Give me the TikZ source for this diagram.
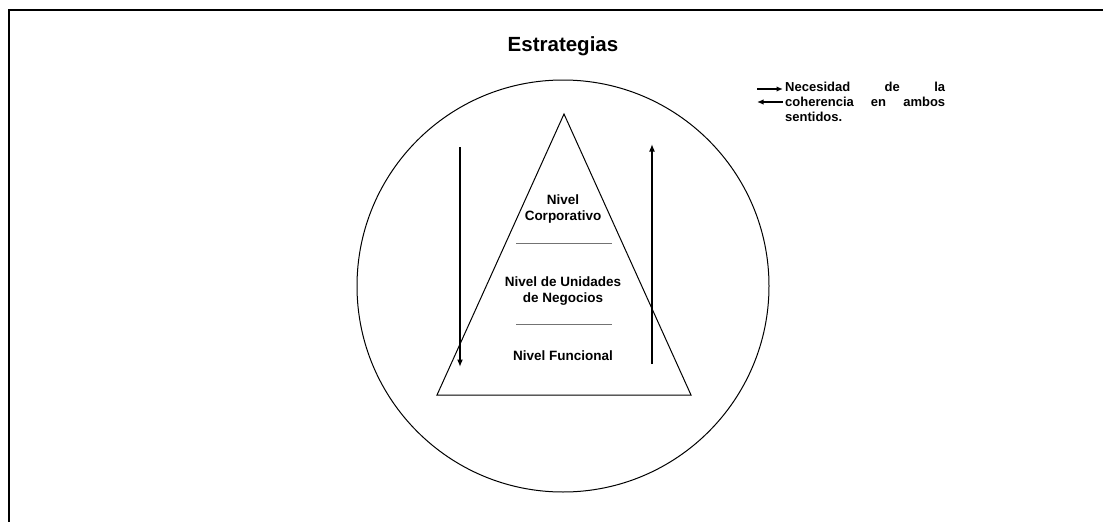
\documentclass[tikz,border=0pt]{standalone}
\usepackage{fontspec}
\setmainfont{Liberation Sans}
\usetikzlibrary{arrows.meta}
\tikzset{
  lbl/.style={font=\bfseries\fontsize{13.5}{16}\selectfont, align=center, inner sep=0pt},
  sep/.style={draw=black!55, line width=0.8pt},
  flow/.style={line width=1.5pt, -{Latex[length=7.5pt,width=6pt]}},
  legarrow/.style={line width=1.3pt, -{Latex[length=6.5pt,width=5.5pt]}},
  outline/.style={draw=black, line width=1pt}
}
\begin{document}
\begin{tikzpicture}[x=1pt,y=-1pt]
\useasboundingbox (0,0) rectangle (1103,522);
% frame
\draw[line width=2pt] (9,522) -- (9,10) -- (1103,10);
% title
\node[font=\bfseries\fontsize{20.5}{24}\selectfont, inner sep=0pt] (title) at (563,46) {Estrategias};
% circle
\node[outline, circle, minimum size=412pt, inner sep=0pt] (circ) at (563,286) {};
% triangle
\coordinate (apex) at (564,114);
\coordinate (bl) at (437,395);
\coordinate (br) at (691,395);
\draw[outline] (apex) -- (bl) -- (br) -- cycle;
% separators
\coordinate (s1a) at (516,243); \coordinate (s1b) at (612,243);
\coordinate (s2a) at (516,324); \coordinate (s2b) at (612,324);
\draw[sep] (s1a) -- (s1b);
\draw[sep] (s2a) -- (s2b);
% labels
\node[lbl] (corp) at (563,209) {Nivel\\Corporativo};
\node[lbl] (unid) at (563,291) {Nivel de Unidades\\de Negocios};
\node[lbl] (func) at (563,356) {Nivel Funcional};
% vertical arrows
\coordinate (d1) at (460,147); \coordinate (d2) at (460,367);
\coordinate (u1) at (652,364); \coordinate (u2) at (652,144);
\draw[flow] (d1) -- (d2);
\draw[flow] (u1) -- (u2);
% legend
\node[font=\bfseries\fontsize{13}{15}\selectfont, inner sep=0pt, anchor=north west, align=left] (legend) at (785,82)
  {\hbox to 160pt{Necesidad\hfill de\hfill la}\\\hbox to 160pt{coherencia\hfill en\hfill ambos}\\sentidos.};
\coordinate (l1a) at (757,89); \coordinate (l1b) at (783,89);
\coordinate (l2a) at (783,102); \coordinate (l2b) at (757,102);
\draw[legarrow] (l1a) -- (l1b);
\draw[legarrow] (l2a) -- (l2b);
\end{tikzpicture}
\end{document}
